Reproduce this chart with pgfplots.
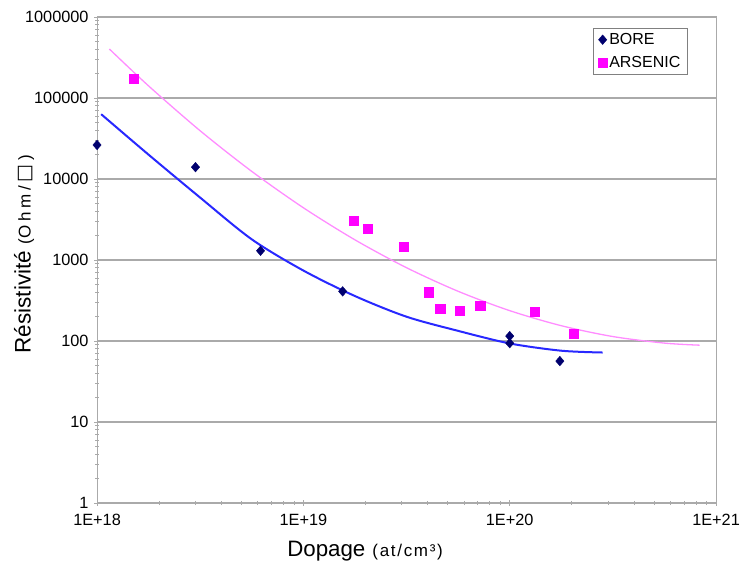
\documentclass[border=0pt]{standalone}
\usepackage{pgfplots}
\pgfplotsset{compat=1.18}
\usepackage{fontspec}
\setmainfont{Liberation Sans}
\newfontfamily\symfont{DejaVu Sans}
\definecolor{bore}{RGB}{0,0,110}
\definecolor{arsenic}{RGB}{255,0,255}
\definecolor{bline}{RGB}{40,40,255}
\definecolor{aline}{RGB}{255,140,255}
\definecolor{gridgray}{RGB}{170,170,170}
\begin{document}
\begin{tikzpicture}[x=1pt,y=1pt]
\begin{axis}[
  at={(0,0)}, anchor=south west,
  scale only axis, width=619pt, height=486pt,
  xmode=log, ymode=log,
  xmin=1e18, xmax=1e21, ymin=1, ymax=1e6,
  xtick={1e18,1e19,1e20,1e21},
  xticklabels={1E+18,1E+19,1E+20,1E+21},
  minor xtick={2e18,3e18,4e18,5e18,6e18,7e18,8e18,9e18,
               2e19,3e19,4e19,5e19,6e19,7e19,8e19,9e19,
               2e20,3e20,4e20,5e20,6e20,7e20,8e20,9e20},
  ytick={1,10,100,1000,10000,100000,1000000},
  yticklabels={1,10,100,1000,10000,100000,1000000},
  minor ytick={2,3,4,5,6,7,8,9,20,30,40,50,60,70,80,90,
               200,300,400,500,600,700,800,900,
               2000,3000,4000,5000,6000,7000,8000,9000,
               20000,30000,40000,50000,60000,70000,80000,90000,
               200000,300000,400000,500000,600000,700000,800000,900000},
  ymajorgrids,
  major grid style={gridgray, line width=1.5pt},
  axis line style={gridgray, line width=1pt},
  every tick/.style={gridgray, line width=0.8pt},
  tick align=center,
  major tick length=6pt, minor tick length=4pt,
  xtick pos=left, ytick pos=left,
  ticklabel style={font=\fontsize{16.3}{19}\selectfont, text=black},
  xticklabel style={yshift=-5pt},
  yticklabel style={xshift=-2pt},
  xlabel={Dopage\hspace{7pt}{\fontsize{17}{20}\selectfont\addfontfeature{LetterSpace=10}(at/cm³)}},
  ylabel={Résistivité\hspace{6pt}{\fontsize{17}{20}\selectfont\addfontfeature{LetterSpace=22}(\hspace{1pt}Ohm/\hspace{3pt}{\symfont\fontsize{19}{20}\selectfont □}\hspace{4pt})}},
  every axis x label/.style={at={(axis description cs:0.433,-0.100)}, anchor=center, font=\fontsize{22.3}{26}\selectfont},
  every axis y label/.style={at={(axis description cs:-0.118,0.512)}, anchor=center, rotate=90, font=\fontsize{22.5}{26}\selectfont},
  legend style={at={(axis description cs:0.801,0.977)}, anchor=north west,
    draw=gray, font=\fontsize{16}{19}\selectfont, row sep=6pt, inner xsep=5pt, inner ysep=3pt},
  legend cell align=left,
  legend image code/.code={\draw[#1] (0pt,0pt) plot coordinates {(0pt,0pt)};},
]
\addplot[aline, line width=1.3pt, smooth, forget plot] coordinates {
(1.148e18,402000) (1.778e18,140900) (3.162e18,39360) (5.623e18,12410) (1e19,4416)
(1.778e19,1774) (3.162e19,803) (5.623e19,411) (1e20,237) (1.778e20,154.5)
(3.162e20,113.5) (5.623e20,94.2) (8.318e20,88.8)};
\addplot[bline, line width=2pt, smooth, forget plot] coordinates {
(1.047e18,63096) (1.778e18,19953) (3.162e18,5888) (5.623e18,1799) (1e19,741)
(1.778e19,359) (3.162e19,199.5) (5.623e19,133.4) (1e20,93.3) (1.778e20,75.9) (2.818e20,72.1)};
\addplot[only marks, mark=diamond*, mark size=4.8pt, color=bore, mark options={xscale=1.15}] coordinates {
(1e18,26300) (3e18,14000) (6.2e18,1300) (1.55e19,410) (1e20,115) (1e20,94) (1.75e20,56.5)};
\addlegendentry{BORE}
\addplot[only marks, mark=square*, mark size=4.6pt, color=arsenic] coordinates {
(1.5e18,172000) (1.75e19,3030) (2.05e19,2460) (3.05e19,1460) (4.05e19,400)
(4.6e19,248) (5.7e19,236) (7.2e19,273) (1.32e20,228) (2.05e20,122)};
\addlegendentry{ARSENIC}
\end{axis}
\pgfresetboundingbox
\useasboundingbox (-97,-71) rectangle (645,503);
\end{tikzpicture}
\end{document}
